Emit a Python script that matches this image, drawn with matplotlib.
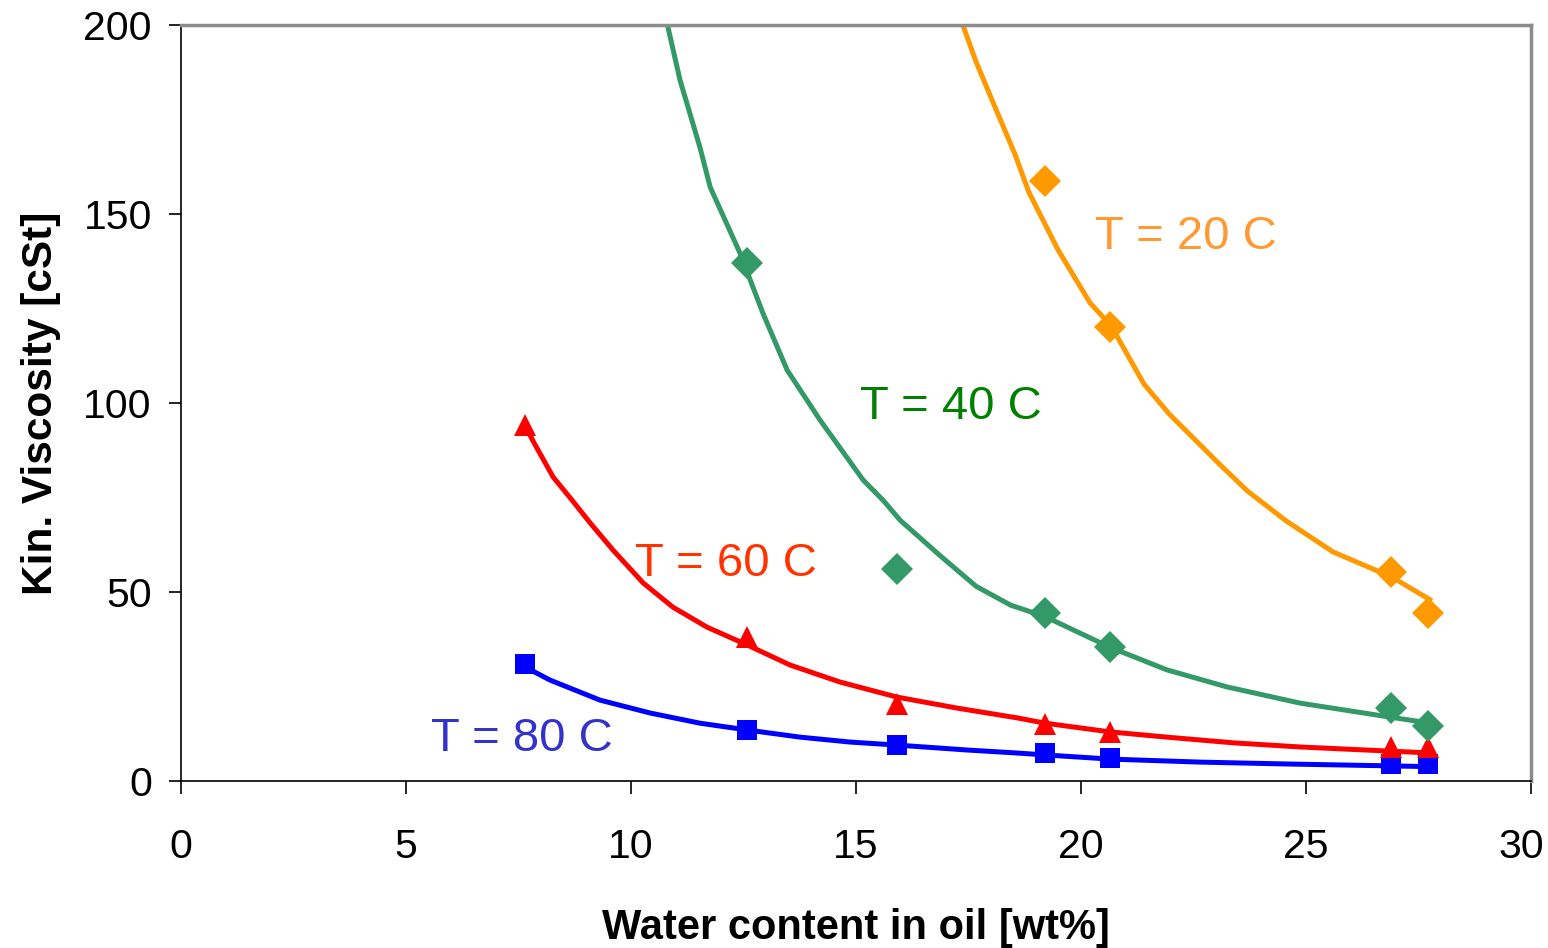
import numpy as np
import matplotlib
matplotlib.use("Agg")
import matplotlib.pyplot as plt
from matplotlib.transforms import ScaledTranslation

plt.rcParams['font.family'] = ['Liberation Sans', 'DejaVu Sans']

x_80 = [7.64, 12.58, 15.91, 19.2, 20.64, 26.89, 27.71]
y_80 = [31.0, 13.5, 9.5, 7.4, 6.0, 4.6, 4.6]

x_60 = [7.64, 12.58, 15.91, 19.2, 20.64, 26.89, 27.71]
y_60 = [94.2, 38.1, 20.4, 15.1, 13.0, 9.0, 9.0]

x_40 = [12.58, 15.91, 19.2, 20.64, 26.89, 27.71]
y_40 = [137.0, 56.1, 44.4, 35.4, 19.3, 14.6]

x_20 = [19.2, 20.64, 26.89, 27.71]
y_20 = [158.7, 120.1, 55.3, 44.4]

# ---- trendline curves ----
cx_80 = [7.64, 8.2, 9.31, 10.42, 11.53, 12.58, 13.76, 14.87, 15.91, 17.47, 18.58,
         19.2, 20.64, 22.64, 24.58, 26.87, 27.75]
cy_80 = [30.2, 26.7, 21.4, 18.0, 15.3, 13.5, 11.6, 10.3, 9.5, 8.2, 7.4,
         6.9, 5.8, 5.0, 4.5, 4.0, 3.8]

cx_60 = [7.65, 7.82, 8.27, 8.69, 9.09, 9.6, 10.27, 10.93, 11.69, 12.58, 13.53,
         14.64, 15.91, 17.24, 18.58, 19.2, 20.64, 21.91, 23.38, 24.87, 26.87, 27.8]
cy_60 = [94.0, 90.0, 80.4, 74.3, 68.3, 61.1, 52.4, 46.0, 40.7, 36.0, 30.7,
         26.2, 22.2, 19.3, 16.7, 15.3, 13.0, 11.6, 10.1, 9.0, 7.9, 7.4]

cx_40 = [10.82, 11.09, 11.53, 11.76, 12.42, 12.93, 13.47, 14.2, 15.16, 15.6, 15.98,
         16.87, 17.67, 18.44, 19.2, 20.64, 21.91, 23.24, 24.87, 26.87, 27.76]
cy_40 = [199.5, 185.4, 167.7, 157.1, 139.7, 123.8, 108.7, 95.5, 79.6, 74.3, 69.0,
         59.6, 51.5, 46.5, 43.5, 35.4, 29.4, 24.9, 20.6, 16.9, 15.3]

cx_20 = [17.38, 17.67, 18.06, 18.53, 18.84, 19.49, 20.2, 20.67, 21.4, 21.96, 23.07,
         23.7, 24.56, 25.6, 26.9, 27.75]
cy_20 = [199.8, 190.2, 179.1, 165.9, 155.8, 140.5, 126.5, 120.4, 105.0, 97.1, 83.9,
         76.7, 68.8, 60.6, 54.0, 48.0]

labels = ["T = 80 C", "T = 60 C", "T = 40 C", "T = 20 C"]
label_x = [7.58, 12.1, 17.1, 22.33]
label_y = [11.0, 57.4, 99.0, 144.0]

x_ticks = [0, 5, 10, 15, 20, 25, 30]
y_ticks = [0, 50, 100, 150, 200]

styles = [
    # line/marker colour, marker, size, text colour
    ("#0000FF", "s", 14, "#3333CC"),
    ("#FF0000", "^", 16, "#FF3300"),
    ("#339966", "D", 16.5, "#008000"),
    ("#FF9900", "D", 16.5, "#FF9933"),
]
pts = [(x_80, y_80), (x_60, y_60), (x_40, y_40), (x_20, y_20)]
curves = [(cx_80, cy_80), (cx_60, cy_60), (cx_40, cy_40), (cx_20, cy_20)]

fig = plt.figure(figsize=(15.48, 9.48), dpi=100)
ax = fig.add_axes([181/1548, 1-781/948, (1531-181)/1548, (781-25)/948])

for (px, py), (cx, cy), (col, mk, ms, tcol), lab, tx, ty in zip(
        pts, curves, styles, labels, label_x, label_y):
    ax.plot(cx, cy, color=col, lw=3.6, zorder=2, solid_joinstyle='round')
    ax.plot(px, py, linestyle='none', marker=mk, markersize=ms, color=col,
            markeredgewidth=0, zorder=3, clip_on=False)
    ax.text(tx, ty, lab, color=tcol, fontsize=34, ha='center', va='center')

ax.set_xlim(0, 30)
ax.set_ylim(0, 200)
ax.set_xticks(x_ticks)
ax.set_yticks(y_ticks)
ax.tick_params(axis='both', labelsize=29.5, length=9, width=1.2, color='black', direction='out')
ax.tick_params(axis='x', pad=25)
ax.tick_params(axis='y', pad=12)

# keep the last x tick label inside the figure, as in the reference
last = ax.get_xticklabels()[-1]
last.set_transform(last.get_transform() + ScaledTranslation(-10/100, 0, fig.dpi_scale_trans))

ax.spines['left'].set_color('black'); ax.spines['left'].set_linewidth(1.2)
ax.spines['bottom'].set_color('black'); ax.spines['bottom'].set_linewidth(1.2)
for s in ('top', 'right'):
    ax.spines[s].set_color('#8c8c8c'); ax.spines[s].set_linewidth(2.5)

ax.set_xlabel("Water content in oil [wt%]", fontsize=30, fontweight='bold', labelpad=30)
ax.set_ylabel("Kin. Viscosity [cSt]", fontsize=30.5, fontweight='bold', labelpad=16)

fig.savefig("out.png", dpi=100)
